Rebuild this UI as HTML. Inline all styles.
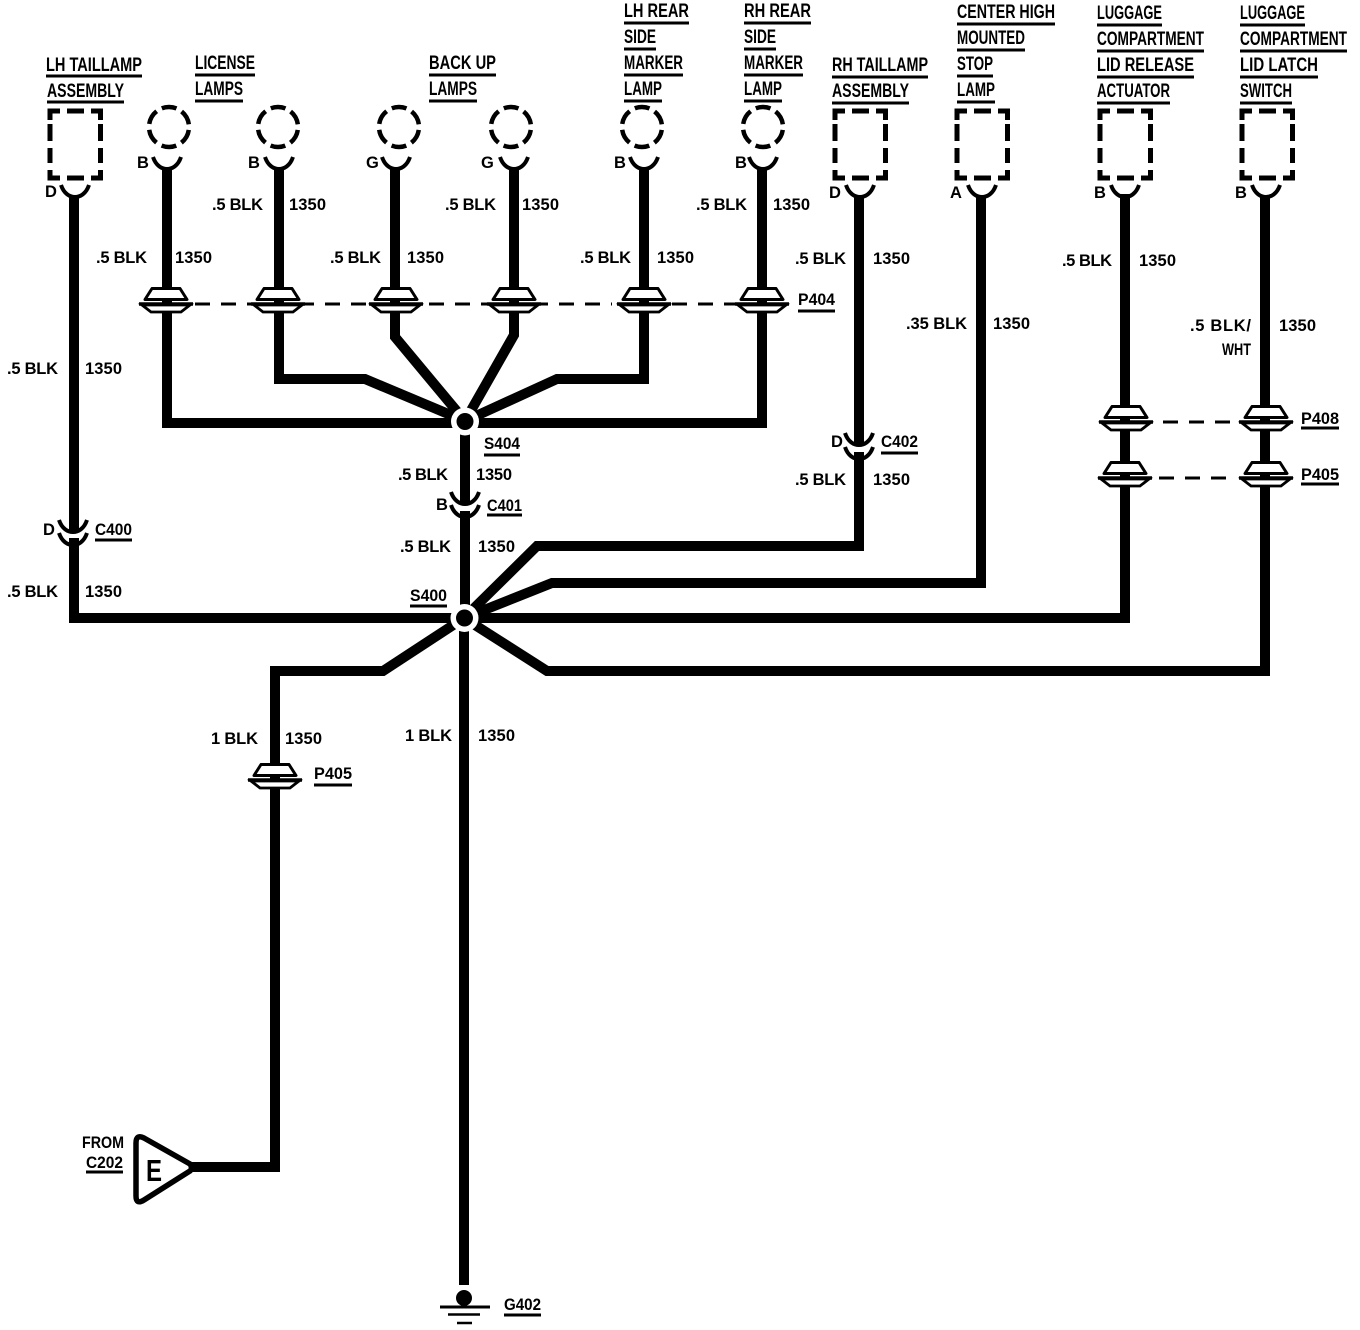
<!DOCTYPE html>
<html><head><meta charset="utf-8"><style>
html,body{margin:0;padding:0;background:#fff}
svg{display:block}
text{font-family:"Liberation Sans",sans-serif;font-weight:bold;font-size:16.5px;fill:#000}
.h text{font-size:19px;font-weight:bold}
.w{fill:none;stroke:#000;stroke-width:10;stroke-linejoin:miter}
.u{fill:none;stroke:#000;stroke-width:3}
</style></head><body>
<svg width="1360" height="1330" viewBox="0 0 1360 1330" xmlns="http://www.w3.org/2000/svg">
<defs>
<g id="p"><path d="M-21 -4.500L-14 -15.500H14L21 -4.500Z" fill="#fff" stroke="#000" stroke-width="3" stroke-linejoin="round"/><path d="M-27 0H27" stroke="#000" stroke-width="3.500"/><path d="M-24 1L-15 8H15L24 1Z" fill="#fff" stroke="#000" stroke-width="2.800"/></g>
<path id="a" d="M-14 -12C-11 -3 -5 0 0 0S11 -3 14 -12" fill="none" stroke="#000" stroke-width="4"/>
<path id="r" d="M10 111H0V120M41 111H50.5V120M17 111H34M0 124V141M0 148V163M50.5 124V141M50.5 148V163M0 170V178H10M50.5 170V178H41M17 178H34" fill="none" stroke="#000" stroke-width="5"/>
<circle id="c" r="20" fill="none" stroke="#000" stroke-width="4.5" stroke-dasharray="15 5.94" stroke-dashoffset="-3"/>
</defs>

<!-- wires -->
<g class="w">
<path d="M74 196V618H464"/>
<path d="M167 168V423H465"/>
<path d="M279 168V379H365L465 421"/>
<path d="M395 168V337L465 421"/>
<path d="M514 168V335L465 421"/>
<path d="M644 168V379H557L465 421"/>
<path d="M762 168V423H465"/>
<path d="M465 421V618"/>
<path d="M859 196V546H537L464 618"/>
<path d="M981 196V583H552L464 618"/>
<path d="M1125 194V618H464"/>
<path d="M1265 196V671H547L464 618"/>
<path d="M464 618L383 671H275V1167H192"/>
<path d="M464 618V1285"/>
</g>

<!-- splices -->
<circle cx="465" cy="421.500" r="14" fill="#fff"/><circle cx="464.500" cy="618" r="14" fill="#fff"/>
<circle cx="465" cy="421.500" r="8.500"/><circle cx="464.500" cy="618" r="8.500"/>

<!-- inline gaps -->
<rect x="455" y="505" width="20" height="6" fill="#fff"/>
<rect x="65" y="532" width="18" height="6" fill="#fff"/>
<rect x="850" y="446" width="18" height="6" fill="#fff"/>

<!-- connector rects -->
<use href="#r" x="50"/><use href="#r" x="835"/><use href="#r" x="957"/><use href="#r" x="1100"/><use href="#r" x="1242"/>
<!-- lamps -->
<use href="#c" x="169" y="127"/><use href="#c" x="278" y="127"/><use href="#c" x="399" y="127"/><use href="#c" x="511" y="127"/><use href="#c" x="642" y="127"/><use href="#c" x="763" y="127"/>
<!-- arcs -->
<use href="#a" x="167" y="169"/><use href="#a" x="279" y="169"/><use href="#a" x="396" y="169"/><use href="#a" x="514" y="169"/><use href="#a" x="644" y="169"/><use href="#a" x="763" y="169"/>
<use href="#a" x="75" y="197"/><use href="#a" x="860" y="197"/><use href="#a" x="982" y="197"/><use href="#a" x="1125" y="197"/><use href="#a" x="1266" y="197"/>
<!-- inline connector arcs -->
<use href="#a" x="465" y="504"/><use href="#a" x="465" y="517"/>
<use href="#a" x="73" y="532"/><use href="#a" x="73" y="545"/>
<use href="#a" x="859" y="445"/><use href="#a" x="859" y="459"/>

<!-- pass-throughs -->
<use href="#p" x="166" y="304"/><use href="#p" x="278" y="304"/><use href="#p" x="396" y="304"/><use href="#p" x="514" y="304"/><use href="#p" x="644" y="304"/><use href="#p" x="762" y="304"/>
<use href="#p" x="1126" y="422"/><use href="#p" x="1266" y="422"/><use href="#p" x="1125" y="478"/><use href="#p" x="1266" y="478"/><use href="#p" x="275" y="780"/>
<g fill="none" stroke="#000" stroke-width="3" stroke-dasharray="15 11">
<path d="M195 304H612"/><path d="M672 304H736"/><path d="M1163 422H1236"/><path d="M1159 478H1236"/>
</g>

<!-- E triangle -->
<path d="M136 1143Q136 1134 144 1138L190 1164Q193 1168 190 1171L144 1200Q136 1205 136 1196Z" fill="#fff" stroke="#000" stroke-width="5.500"/>
<text x="146" y="1181" style="font-size:31px" textLength="16" lengthAdjust="spacingAndGlyphs">E</text>

<!-- ground -->
<circle cx="464" cy="1298" r="8"/>
<path d="M440 1307H490" stroke="#000" stroke-width="3"/><path d="M448 1314.500H480" stroke="#000" stroke-width="2.500"/><path d="M457 1323H472" stroke="#000" stroke-width="2.500"/>

<!-- underlines -->
<g class="u"><path d="M46 76H142M47 102H124M195 75H255M195 101H243M429 75H496M429 101H477M624 23H689M624 49H656M624 75H683M624 101H662M744 23H811M744 49H776M744 75H803M744 101H782M832 77H928M832 103H909M957 24H1055M957 50H1025M957 76H993M957 102H995M1097 25H1162M1097 51H1204M1097 77H1194M1097 103H1170M1240 25H1305M1240 51H1347M1240 77H1318M1240 103H1292M484 455H520M487 515H522M410 606H447M95 540H132M881 453H918M314 785H352M798 311H835M1301 428H1339M1301 484H1339M86 1172H123M504 1315H541"/></g>

<!-- headers -->
<g class="h">
<text x="46" y="71" textLength="96" lengthAdjust="spacingAndGlyphs">LH TAILLAMP</text>
<text x="47" y="97" textLength="77" lengthAdjust="spacingAndGlyphs">ASSEMBLY</text>
<text x="195" y="69" textLength="60" lengthAdjust="spacingAndGlyphs">LICENSE</text>
<text x="195" y="95" textLength="48" lengthAdjust="spacingAndGlyphs">LAMPS</text>
<text x="429" y="69" textLength="67" lengthAdjust="spacingAndGlyphs">BACK UP</text>
<text x="429" y="95" textLength="48" lengthAdjust="spacingAndGlyphs">LAMPS</text>
<text x="624" y="17" textLength="65" lengthAdjust="spacingAndGlyphs">LH REAR</text>
<text x="624" y="43" textLength="32" lengthAdjust="spacingAndGlyphs">SIDE</text>
<text x="624" y="69" textLength="59" lengthAdjust="spacingAndGlyphs">MARKER</text>
<text x="624" y="95" textLength="38" lengthAdjust="spacingAndGlyphs">LAMP</text>
<text x="744" y="17" textLength="67" lengthAdjust="spacingAndGlyphs">RH REAR</text>
<text x="744" y="43" textLength="32" lengthAdjust="spacingAndGlyphs">SIDE</text>
<text x="744" y="69" textLength="59" lengthAdjust="spacingAndGlyphs">MARKER</text>
<text x="744" y="95" textLength="38" lengthAdjust="spacingAndGlyphs">LAMP</text>
<text x="832" y="71" textLength="96" lengthAdjust="spacingAndGlyphs">RH TAILLAMP</text>
<text x="832" y="97" textLength="77" lengthAdjust="spacingAndGlyphs">ASSEMBLY</text>
<text x="957" y="18" textLength="98" lengthAdjust="spacingAndGlyphs">CENTER HIGH</text>
<text x="957" y="44" textLength="68" lengthAdjust="spacingAndGlyphs">MOUNTED</text>
<text x="957" y="70" textLength="36" lengthAdjust="spacingAndGlyphs">STOP</text>
<text x="957" y="96" textLength="38" lengthAdjust="spacingAndGlyphs">LAMP</text>
<text x="1097" y="19" textLength="65" lengthAdjust="spacingAndGlyphs">LUGGAGE</text>
<text x="1097" y="45" textLength="107" lengthAdjust="spacingAndGlyphs">COMPARTMENT</text>
<text x="1097" y="71" textLength="97" lengthAdjust="spacingAndGlyphs">LID RELEASE</text>
<text x="1097" y="97" textLength="73" lengthAdjust="spacingAndGlyphs">ACTUATOR</text>
<text x="1240" y="19" textLength="65" lengthAdjust="spacingAndGlyphs">LUGGAGE</text>
<text x="1240" y="45" textLength="107" lengthAdjust="spacingAndGlyphs">COMPARTMENT</text>
<text x="1240" y="71" textLength="78" lengthAdjust="spacingAndGlyphs">LID LATCH</text>
<text x="1240" y="97" textLength="52" lengthAdjust="spacingAndGlyphs">SWITCH</text>
</g>

<!-- wire labels -->
<g>
<text x="96" y="263" textLength="51">.5 BLK</text><text x="175" y="263" textLength="37">1350</text>
<text x="212" y="210" textLength="51">.5 BLK</text><text x="289" y="210" textLength="37">1350</text>
<text x="330" y="263" textLength="51">.5 BLK</text><text x="407" y="263" textLength="37">1350</text>
<text x="445" y="210" textLength="51">.5 BLK</text><text x="522" y="210" textLength="37">1350</text>
<text x="580" y="263" textLength="51">.5 BLK</text><text x="657" y="263" textLength="37">1350</text>
<text x="696" y="210" textLength="51">.5 BLK</text><text x="773" y="210" textLength="37">1350</text>
<text x="795" y="264" textLength="51">.5 BLK</text><text x="873" y="264" textLength="37">1350</text>
<text x="906" y="329" textLength="61">.35 BLK</text><text x="993" y="329" textLength="37">1350</text>
<text x="1062" y="266" textLength="50">.5 BLK</text><text x="1139" y="266" textLength="37">1350</text>
<text x="1190" y="331" textLength="61">.5 BLK/</text><text x="1279" y="331" textLength="37">1350</text>
<text x="1222" y="355" textLength="29" lengthAdjust="spacingAndGlyphs">WHT</text>
<text x="7" y="374" textLength="51">.5 BLK</text><text x="85" y="374" textLength="37">1350</text>
<text x="484" y="449" textLength="36" lengthAdjust="spacingAndGlyphs">S404</text>
<text x="398" y="480" textLength="50">.5 BLK</text><text x="476" y="480" textLength="36">1350</text>
<text x="436" y="510">B</text><text x="487" y="511" textLength="35" lengthAdjust="spacingAndGlyphs">C401</text>
<text x="400" y="552" textLength="51">.5 BLK</text><text x="478" y="552" textLength="37">1350</text>
<text x="410" y="601" textLength="37" lengthAdjust="spacingAndGlyphs">S400</text>
<text x="43" y="535">D</text><text x="95" y="535" textLength="37" lengthAdjust="spacingAndGlyphs">C400</text>
<text x="7" y="597" textLength="51">.5 BLK</text><text x="85" y="597" textLength="37">1350</text>
<text x="831" y="447">D</text><text x="881" y="447" textLength="37" lengthAdjust="spacingAndGlyphs">C402</text>
<text x="795" y="485" textLength="51">.5 BLK</text><text x="873" y="485" textLength="37">1350</text>
<text x="211" y="744" textLength="47">1 BLK</text><text x="285" y="744" textLength="37">1350</text>
<text x="314" y="779" textLength="38" lengthAdjust="spacingAndGlyphs">P405</text>
<text x="405" y="741" textLength="47">1 BLK</text><text x="478" y="741" textLength="37">1350</text>
<text x="798" y="305" textLength="37" lengthAdjust="spacingAndGlyphs">P404</text>
<text x="1301" y="424" textLength="38" lengthAdjust="spacingAndGlyphs">P408</text>
<text x="1301" y="480" textLength="38" lengthAdjust="spacingAndGlyphs">P405</text>
<text x="82" y="1148" textLength="42" lengthAdjust="spacingAndGlyphs">FROM</text>
<text x="86" y="1168" textLength="37" lengthAdjust="spacingAndGlyphs">C202</text>
<text x="504" y="1310" textLength="37" lengthAdjust="spacingAndGlyphs">G402</text>
<text x="45" y="197">D</text><text x="137" y="168">B</text><text x="248" y="168">B</text><text x="366" y="168">G</text><text x="481" y="168">G</text><text x="614" y="168">B</text><text x="735" y="168">B</text><text x="829" y="198">D</text><text x="950" y="198">A</text><text x="1094" y="198">B</text><text x="1235" y="198">B</text>
</g>
</svg>
</body></html>
